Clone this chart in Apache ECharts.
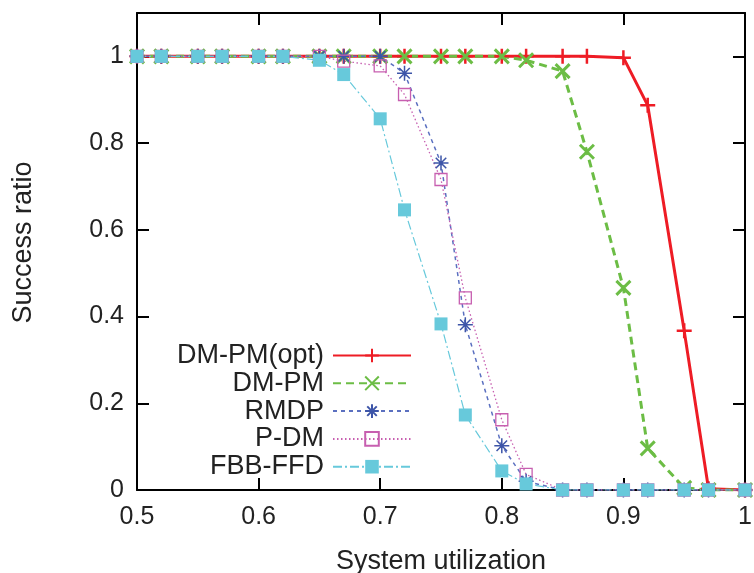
<!DOCTYPE html>
<html>
<head>
<meta charset="utf-8">
<script src="https://cdn.jsdelivr.net/npm/echarts@6/dist/echarts.min.js"></script>
<style>
html,body{margin:0;padding:0;background:#fff;}
#chart{width:754px;height:573px;}
</style>
</head>
<body>
<div id="chart"></div>
<script>
const xValues = [0.5,0.52,0.55,0.57,0.6,0.62,0.65,0.67,0.7,0.72,0.75,0.77,0.8,0.82,0.85,0.87,0.9,0.92,0.95,0.97,1.0];
const seriesNames = ['DM-PM(opt)','DM-PM','RMDP','P-DM','FBB-FFD'];
const dmpmOpt = [1,1,1,1,1,1,1,1,1,1,1,1,1,1,1,1,0.997,0.887,0.367,0.003,0];
const dmpm    = [1,1,1,1,1,1,1,1,1,1,1,1,1,0.991,0.966,0.78,0.466,0.096,0.005,0,0];
const rmdp    = [1,1,1,1,1,1,1,1,1,0.961,0.754,0.381,0.102,0.02,0,0,0,0,0,0,0];
const pdm     = [1,1,1,1,1,1,1,0.989,0.978,0.912,0.716,0.443,0.162,0.036,0,0,0,0,0,0,0];
const fbbffd  = [1,1,1,1,1,1,0.991,0.958,0.856,0.646,0.383,0.173,0.044,0.014,0,0,0,0,0,0,0];
const xTicks = [0.5,0.6,0.7,0.8,0.9,1];
const yTicks = [0,0.2,0.4,0.6,0.8,1];

function pairs(ys){ return xValues.map((x,i)=>[x,ys[i]]); }

const FONT = 'Liberation Sans, Arial, Helvetica, sans-serif';
const chart = echarts.init(document.getElementById('chart'), null, {renderer:'canvas'});

function mkSeries(name, data, color, symbol, size, lineStyle, itemStyle){
  return {
    name, type:'line', data: pairs(data), xAxisIndex:0, yAxisIndex:0,
    symbol, symbolSize:size, showAllSymbol:true,
    lineStyle: Object.assign({color}, lineStyle),
    itemStyle: Object.assign({color, borderColor:color}, itemStyle),
    emphasis:{disabled:true}, animation:false
  };
}

const option = {
  animation:false,
  grid:{left:137, right:9, top:13, bottom:83, containLabel:false, outerBoundsMode:'none'},
  legend:{
    orient:'vertical', right:342, top:342, align:'right', padding:0,
    itemWidth:78, itemHeight:17, itemGap:0.8,
    textStyle:{fontFamily:FONT, fontSize:27, color:'#222', padding:[0,4,0,0]},
    data: seriesNames
  },
  xAxis:[{
    type:'value', min:0.5, max:1.0, interval:0.1, position:'bottom',
    name:'System utilization', nameLocation:'middle', nameGap:58,
    nameTextStyle:{fontFamily:FONT, fontSize:27, color:'#222'},
    axisLine:{show:true, onZero:false, lineStyle:{color:'#000', width:2}},
    axisTick:{show:true, inside:true, length:12, lineStyle:{color:'#000', width:2}},
    axisLabel:{fontFamily:FONT, fontSize:25, color:'#222', margin:15,
      formatter:v=>{ const t = xTicks.find(k=>Math.abs(k-v)<1e-6); return t===undefined?'':String(t); }},
    splitLine:{show:false}
  },{
    type:'value', min:0.5, max:1.0, interval:0.1, position:'top',
    axisLine:{show:true, onZero:false, lineStyle:{color:'#000', width:2}},
    axisTick:{show:true, inside:true, length:12, lineStyle:{color:'#000', width:2}},
    axisLabel:{show:false}, splitLine:{show:false}
  }],
  yAxis:[{
    type:'value', min:0, max:1.1, interval:0.2, position:'left',
    name:'Success ratio', nameLocation:'middle', nameGap:100, nameRotate:90,
    nameTextStyle:{fontFamily:FONT, fontSize:27, color:'#222', padding:[0,0,0,18]},
    axisLine:{show:true, onZero:false, lineStyle:{color:'#000', width:2}},
    axisTick:{show:true, inside:true, length:12, lineStyle:{color:'#000', width:2}},
    axisLabel:{fontFamily:FONT, fontSize:25, color:'#222', margin:13, showMaxLabel:false,
      formatter:v=>{ const t = yTicks.find(k=>Math.abs(k-v)<1e-6); return t===undefined?'':String(t); }},
    splitLine:{show:false}
  },{
    type:'value', min:0, max:1.1, interval:0.2, position:'right',
    axisLine:{show:true, onZero:false, lineStyle:{color:'#000', width:2}},
    axisTick:{show:true, inside:true, length:12, lineStyle:{color:'#000', width:2}},
    axisLabel:{show:false}, splitLine:{show:false}
  }],
  series:[
    mkSeries('DM-PM(opt)', dmpmOpt, '#ee1c25', 'path://M0,5L10,5M5,0L5,10', 15,
      {width:3, type:'solid'}, {borderWidth:2.5}),
    mkSeries('DM-PM', dmpm, '#6cbd45', 'path://M0,0L10,10M0,10L10,0', 14,
      {width:3, type:[8,5]}, {borderWidth:3}),
    mkSeries('RMDP', rmdp, '#3d55a8', 'path://M0,5L10,5M5,0L5,10M1.5,1.5L8.5,8.5M1.5,8.5L8.5,1.5', 15,
      {width:1.5, type:[4,4], color:'#5b70c0'}, {borderWidth:1.5}),
    mkSeries('P-DM', pdm, '#c75fb0', 'path://M0,0L10,0L10,10L0,10Z', 12,
      {width:1.3, type:[1.5,2.5]}, {color:'rgba(0,0,0,0)', borderWidth:1.3}),
    mkSeries('FBB-FFD', fbbffd, '#67c9db', 'rect', 13,
      {width:1.2, type:[9,3,2,3]}, {borderWidth:0})
  ]
};
chart.setOption(option);
</script>
</body>
</html>
